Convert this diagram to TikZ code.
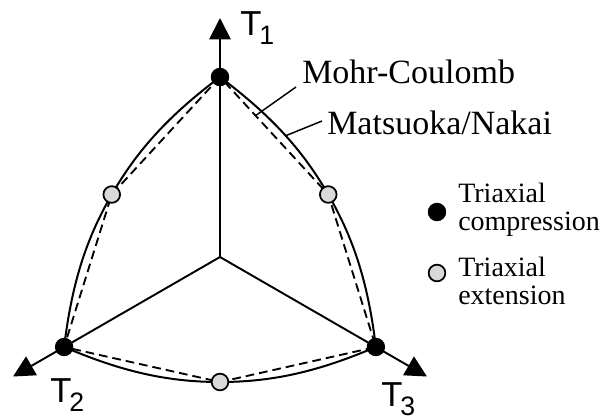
\documentclass[tikz,border=0pt]{standalone}
\usepackage{fontspec}
\setmainfont{Liberation Serif}
\newfontfamily\labsans{Liberation Sans}
\usetikzlibrary{arrows.meta}
\definecolor{dotgrey}{RGB}{217,217,217}
\newcommand{\mytlab}[1]{{\labsans\fontsize{26}{26}\selectfont T\kern-1.5pt\raisebox{-7pt}{\fontsize{20}{20}\selectfont #1}}}
\begin{document}
\begin{tikzpicture}[x=0.75pt,y=-0.75pt,
  axis/.style={line width=1.45pt,-{Triangle[length=16pt,width=16pt]}},
  mn/.style={line width=1.5pt},
  mc/.style={line width=1.4pt,dash pattern=on 6.5pt off 3.75pt},
  leader/.style={line width=1.1pt},
  cdot/.style={circle,fill=black,draw=black,line width=0.8pt,minimum size=13pt,inner sep=0pt},
  edot/.style={circle,fill=dotgrey,draw=black,line width=1.3pt,minimum size=12.5pt,inner sep=0pt},
  lab/.style={inner sep=0pt,anchor=base west,font=\fontsize{25.5}{25.5}\selectfont},
  leg/.style={inner sep=0pt,anchor=base west,font=\fontsize{21}{21}\selectfont},
  tl/.style={inner sep=0pt,anchor=base west},
]
\useasboundingbox (0,0) rectangle (608,419);
\begin{scope}[shift={(220,257)},yscale=-1]
  \coordinate (O) at (0,0);
  \coordinate (B1) at (90:180);
  \coordinate (B2) at (210:180);
  \coordinate (B3) at (330:180);
  \coordinate (G12) at (150:125);
  \coordinate (G23) at (30:125);
  \coordinate (G31) at (270:125);
  \coordinate (A1) at (90:239);
  \coordinate (A2) at (210:239);
  \coordinate (A3) at (330:239);
  % axes
  \draw[axis] (O) -- (A1);
  \draw[axis] (O) -- (A2);
  \draw[axis] (O) -- (A3);
  % Mohr-Coulomb
  \draw[mc] (B1) -- (G12) -- (B2) -- (G31) -- (B3) -- (G23) -- cycle;
  % Matsuoka/Nakai
  \draw[mn] (B1) .. controls +(217:60) and +(60:55) .. (G12)
                 .. controls +(240:55) and +(83:60) .. (B2)
                 .. controls +(337:60) and +(180:55) .. (G31)
                 .. controls +(0:55) and +(203:60) .. (B3)
                 .. controls +(97:60) and +(300:55) .. (G23)
                 .. controls +(120:55) and +(323:60) .. (B1);
\end{scope}
% leaders
\coordinate (mcA) at (255,116);
\coordinate (mcB) at (296,87);
\coordinate (mnA) at (285,136);
\coordinate (mnB) at (322,121);
\draw[leader] (mcA) -- (mcB);
\draw[leader] (mnA) -- (mnB);
% dots
\node[cdot] (d1) at (B1) {};
\node[cdot] (d2) at (B2) {};
\node[cdot] (d3) at (B3) {};
\node[edot] (e12) at (G12) {};
\node[edot] (e23) at (G23) {};
\node[edot] (e31) at (G31) {};
% axis labels
\node[tl] (t1) at (240,35) {\mytlab{1}};
\node[tl] (t2) at (50,402) {\mytlab{2}};
\node[tl] (t3) at (381,406) {\mytlab{3}};
% curve labels
\node[lab] (mcl) at (302,83) {Mohr-Coulomb};
\node[lab] (mnl) at (327,134) {Matsuoka/Nakai};
% legend
\node[cdot] (lgc) at (437,212) {};
\node[edot] (lge) at (437,273) {};
\node[leg] (lt1) at (458,202) {Triaxial};
\node[leg] (lt2) at (458,230) {compression};
\node[leg] (lt3) at (458,276) {Triaxial};
\node[leg] (lt4) at (458,304) {extension};
\end{tikzpicture}
\end{document}
